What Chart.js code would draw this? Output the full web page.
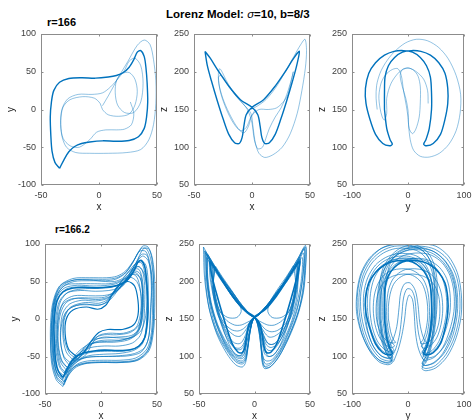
<!DOCTYPE html>
<html>
<head>
<meta charset="utf-8">
<script src="https://cdn.jsdelivr.net/npm/chart.js@4"></script>
<style>
  html, body { margin: 0; padding: 0; background: #fff; }
  body { width: 472px; height: 420px; position: relative; overflow: hidden;
         font-family: "Liberation Sans", Arial, Helvetica, sans-serif; }
  canvas { position: absolute; }
  .ttl { position: absolute; font-weight: bold; color: #000; white-space: nowrap; line-height: 1; }
  .ttl i { font-weight: normal; }
</style>
</head>
<body>
<div class="ttl" id="mainTitle" style="left:166px; top:9px; font-size:11.5px;"></div>
<div class="ttl" id="title0" style="left:47px; top:17px; font-size:11px;"></div>
<div class="ttl" id="title1" style="left:55px; top:225px; font-size:10px;"></div>
<script>
// ---- text ----
const mainTitleParts = ['Lorenz Model: ', '\u03C3', '=10, b=8/3'];
const panelTitles = ['r=166', 'r=166.2'];
const axisNames = ['x', 'y', 'z'];

// ---- tick labels ----
const xTicks = [-50, 0, 50];
const yTicksXY = [-100, -50, 0, 50, 100];
const yTicksYZ = [-100, 0, 100];
const zTicks = [50, 100, 150, 200, 250];

// ---- r = 166 : settled periodic orbit (x-y, x-z, y-z) ----
const orbitXY = [[-34,-78],[-38,-70],[-40.5,-55],[-41.5,-35],[-42,-10],[-41,10],[-39,25],[-34,36],[-26,41],[-15,42],[-3,41.5],[8,43],[15,45],[21,49],[26,56],[30,66],[33,76],[36,78],[39,70],[40.5,55],[41.5,35],[42,10],[41,-10],[39,-25],[34,-36],[26,-41],[15,-42],[3,-41.5],[-8,-43],[-15,-45],[-21,-49],[-26,-56],[-30,-66],[-34,-78]];
const orbitXZ = [[-40.5,227],[-36,218],[-29,201],[-20,181],[-10,163],[0,153],[5,143],[7,128],[8.5,113],[11,105],[15,106],[20,117],[25,138],[30,162],[35,188],[38.5,208],[40.8,227],[36,218],[29,201],[20,181],[10,163],[0,153],[-5,143],[-7,128],[-8.5,113],[-11,105],[-15,106],[-20,117],[-25,138],[-30,162],[-35,188],[-38.5,208],[-40.5,227]];
const orbitYZ = [[-42,150],[-38,125],[-32,110],[-28,104],[-33,102],[-45,105],[-58,117],[-68,137],[-75,158],[-76,178],[-70,198],[-58,212],[-42,222],[-25,227],[-8,228],[8,226],[22,219],[33,208],[40,193],[42,172],[42,150],[38,125],[32,110],[28,104],[33,102],[45,105],[58,117],[66,137],[71,158],[71,178],[66,198],[55,212],[40,222],[23,227],[6,228],[-10,226],[-24,219],[-35,208],[-41,193],[-42,172],[-42,150]];

// ---- r = 166 : transient before the orbit settles ----
const transientXY = [[3,5],[8,18],[13,32],[18,46],[25,64],[33,85],[39,92],[44,86],[47,66],[49,38],[49,8],[47,-20],[43,-40],[36,-53],[24,-57],[8,-58],[-8,-58],[-20,-57],[-28,-50],[-32,-35],[-33,-15],[-31,3],[-25,13],[-14,17],[-4,15],[1,8],[3,0],[8,-7],[17,-9],[26,-6],[31,6],[33,24],[31,40],[26,49],[19,47],[15,38],[14,22],[16,6],[22,-4],[30,-4],[36,10],[38,35],[36,58],[31,68],[26,64],[22,52],[17,42],[10,30],[3,22],[-6,20],[-18,20],[-27,14],[-32,0],[-33,-20],[-31,-38],[-25,-48],[-17,-50],[-8,-40],[-2,-30],[6,-27],[15,-27],[22,-26],[28,-20],[30,-5],[27,10]];
const transientXZ = [[-1,150],[5,155],[12,163],[20,178],[28,198],[36,220],[42,236],[45.7,243],[47,228],[46,205],[43,175],[39,145],[33,118],[26,100],[18,90],[11,86.5],[6,92],[3,105],[1,125],[-1,145],[-8,158],[-15,170],[-22,188],[-27.6,204],[-29,198],[-28,180],[-24,160],[-18,140],[-12,125],[-7,119],[-3,128],[0,142],[6,150],[14,150],[21,152],[27,160],[31,170],[33,182],[35.6,200],[34,190],[30,170],[25,152],[20,140],[15,125],[12,112],[9,100],[5,98],[2,110],[0,132],[-4,150],[-12,165],[-20,180],[-26,195],[-29,193],[-27,172],[-22,150],[-16,132],[-10,122],[-5,126],[-1,140],[3,150]];
const transientYZ = [[-55,150],[-57,165],[-56,182],[-50,198],[-40,212],[-25,226],[-5,238],[15,243],[35,241],[55,232],[72,217],[86,195],[94,170],[93,145],[86,122],[73,104],[56,92],[38,87],[22,88],[10,96],[4,110],[1,130],[0,149],[-4,165],[-10,180],[-14,195],[-10,203],[0,205],[10,202],[18,194],[22,180],[22,160],[20,140],[14,124],[8,118],[2,125],[0,140],[-3,155],[-8,175],[-12,195],[-18,204],[-28,203],[-40,196],[-48,185],[-52,168],[-50,152],[-46,140],[-42,136],[-38,145],[-38,165],[-30,185],[-15,200],[0,205],[15,200],[28,190],[35,175],[36,158]];

// ---- r = 166.2 : intermittent bursts, x-y ----
const xyLoop1 = [[-33,-88],[-39,-80],[-43,-62],[-45,-35],[-45,-5],[-43,22],[-37,44],[-25,54],[-10,55],[5,55],[14,57],[22,64],[30,80],[37,97],[42,96],[46,80],[48,50],[48,15],[47,-15],[43,-42],[33,-55],[18,-58],[2,-58],[-12,-59],[-22,-64],[-29,-75],[-33,-88]];
const xyLoop2 = [[-33,-86],[-39,-78],[-43,-58],[-44,-32],[-44,-2],[-42,23],[-36,43],[-24,52],[-10,53],[5,53],[14,55],[22,62],[29,77],[36,94],[41,93],[45,76],[47,48],[47,14],[46,-16],[42,-41],[32,-54],[17,-57],[2,-57],[-12,-58],[-22,-62],[-28,-72],[-33,-86]];
const xyLoop3 = [[-32,-83],[-38,-76],[-42,-55],[-43,-30],[-43,0],[-41,24],[-35,42],[-24,50],[-10,51],[4,51],[13,53],[21,60],[28,74],[34,90],[40,90],[44,72],[46,45],[46,12],[45,-18],[41,-40],[31,-52],[17,-55],[2,-55],[-12,-56],[-21,-60],[-28,-70],[-32,-83]];
const xyLoop4 = [[-34,-80],[-40,-70],[-43,-48],[-44,-20],[-43,8],[-40,30],[-32,45],[-20,47],[-6,47],[7,47],[16,50],[24,58],[31,74],[37,84],[42,78],[45,58],[45,28],[44,-2],[42,-28],[36,-44],[25,-49],[10,-50],[-4,-50],[-15,-52],[-24,-60],[-30,-70],[-34,-80]];
const xyLoop5 = [[-33,-76],[-39,-67],[-42,-46],[-43,-20],[-42,7],[-39,27],[-31,40],[-19,43],[-5,42],[7,42],[15,45],[23,53],[30,68],[35,78],[40,72],[42,52],[42,24],[41,-3],[39,-25],[32,-38],[20,-43],[6,-43],[-7,-44],[-17,-48],[-25,-58],[-33,-76]];
const xyLoop6 = [[-33,-72],[-37,-64],[-40,-45],[-41,-20],[-40,5],[-37,24],[-30,35],[-18,38],[-5,37],[7,38],[15,41],[22,48],[28,62],[33,70],[37,64],[39,45],[39,20],[38,-5],[35,-22],[28,-32],[16,-36],[3,-36],[-9,-38],[-18,-44],[-26,-55],[-33,-72]];
const xyLoop7 = [[-31,-68],[-36,-58],[-39,-38],[-39,-14],[-37,8],[-33,24],[-24,31],[-11,31],[1,31],[10,34],[18,42],[24,54],[30,64],[35,60],[37,42],[37,18],[36,-6],[32,-20],[24,-28],[11,-31],[-1,-31],[-11,-34],[-19,-42],[-26,-54],[-31,-68]];
const xyLoop8 = [[-30,-65],[-35,-55],[-38,-35],[-38,-12],[-36,8],[-31,22],[-21,28],[-8,28],[3,29],[11,35],[19,45],[25,57],[31,62],[36,50],[37,30],[36,5],[33,-14],[27,-24],[15,-29],[3,-30],[-7,-32],[-15,-40],[-23,-53],[-30,-65]];
const xyLoop9 = [[-28,-62],[-33,-52],[-36,-32],[-36,-10],[-34,8],[-28,20],[-17,25],[-5,24],[5,27],[13,36],[20,48],[27,60],[32,56],[35,40],[36,15],[35,-8],[30,-22],[19,-28],[6,-28],[-4,-30],[-12,-38],[-20,-52],[-28,-62]];
const xyLoop10 = [[-24,-56],[-31,-44],[-34,-22],[-33,2],[-27,16],[-14,22],[-2,21],[6,26],[12,38],[19,52],[27,66],[34,70],[39,58],[41,30],[40,5],[36,-15],[27,-25],[14,-25],[3,-24],[-5,-28],[-12,-40],[-18,-50],[-24,-56]];
const xyLoop11 = [[-20,-54],[-28,-46],[-33,-25],[-33,-2],[-28,14],[-15,20],[-3,18],[5,23],[11,36],[17,48],[25,56],[32,50],[36,30],[35,5],[31,-12],[20,-19],[7,-19],[-2,-22],[-8,-33],[-13,-47],[-20,-54]];
const xyLoop12 = [[-34,-90],[-40,-81],[-44,-60],[-45,-32],[-44,-2],[-42,24],[-36,45],[-24,52],[-9,52],[4,50],[12,50],[19,54],[25,64],[31,74],[36,75],[39,62],[41,38],[41,10],[40,-15],[37,-33],[29,-42],[16,-46],[2,-47],[-11,-49],[-20,-55],[-28,-68],[-34,-90]];
const xyLoop13 = [[-31,-72],[-36,-64],[-39,-45],[-40,-20],[-39,5],[-36,24],[-29,36],[-17,40],[-4,41],[8,42],[16,46],[24,56],[31,74],[38,94],[43,93],[46,75],[47,45],[47,12],[46,-18],[42,-42],[32,-55],[17,-58],[1,-58],[-13,-59],[-23,-63],[-29,-70],[-31,-72]];
const xyLoop14 = [[-33,-84],[-39,-74],[-42,-52],[-43,-25],[-42,4],[-40,27],[-33,41],[-21,45],[-7,44],[6,45],[15,48],[23,56],[30,71],[36,86],[41,85],[44,66],[45,38],[44,8],[43,-21],[39,-38],[30,-46],[16,-49],[2,-50],[-12,-51],[-22,-56],[-29,-67],[-33,-84]];
const xyLoop15 = [[-29,-66],[-35,-57],[-38,-40],[-39,-16],[-38,6],[-34,20],[-26,27],[-14,27],[-2,26],[8,30],[16,40],[23,54],[29,66],[34,66],[37,52],[38,28],[37,2],[34,-14],[27,-22],[16,-24],[5,-25],[-5,-27],[-13,-35],[-21,-50],[-29,-66]];
const xyLoop16 = [[-26,-60],[-33,-50],[-36,-30],[-35,-6],[-31,10],[-22,18],[-10,19],[0,19],[7,24],[14,36],[21,50],[29,60],[35,55],[37,35],[37,10],[34,-8],[26,-18],[14,-21],[3,-21],[-5,-25],[-12,-37],[-19,-51],[-26,-60]];
const xyInner = [[-22,-50],[-29,-40],[-32,-20],[-31,0],[-25,12],[-13,16],[-3,13],[4,18],[10,32],[16,44],[24,50],[30,44],[33,25],[33,5],[29,-8],[19,-14],[6,-14],[-2,-18],[-9,-30],[-15,-44],[-22,-50]];

// ---- r = 166.2 : x-z ----
const xzLoop1 = [[-45,241],[-40,228],[-30,203],[-18,176],[-7,158],[1,150],[5,135],[6,112],[7,92],[9,84],[14,86],[22,100],[31,125],[39,155],[44,185],[46,215],[46,248],[40,233],[29,205],[17,177],[6,158],[-1,150],[-4,133],[-6,112],[-8,95],[-11,90],[-17,93],[-25,108],[-34,132],[-41,165],[-44,200],[-45,241]];
const xzLoop2 = [[-44,238],[-39,225],[-29,201],[-17,175],[-6,158],[1,150],[5,134],[6,112],[7,94],[9,87],[14,89],[22,103],[31,128],[39,158],[44,188],[45,217],[45,245],[39,230],[28,203],[16,176],[5,158],[-1,150],[-4,134],[-6,113],[-8,97],[-11,92],[-17,95],[-25,110],[-34,135],[-40,167],[-43,202],[-44,238]];
const xzLoop3 = [[-43,232],[-37,217],[-27,195],[-16,172],[-6,157],[1,150],[4,136],[6,115],[8,97],[10,90],[15,92],[23,107],[31,132],[38,160],[42,190],[44,215],[44,238],[38,222],[27,198],[16,174],[5,157],[-1,150],[-4,135],[-6,115],[-8,100],[-11,94],[-17,97],[-25,112],[-33,137],[-39,167],[-42,198],[-43,232]];
const xzLoop4 = [[-42,236],[-36,221],[-26,198],[-15,174],[-5,157],[1,150],[4,133],[6,112],[8,98],[11,94],[16,96],[24,112],[32,138],[39,168],[43,200],[45,243],[38,225],[27,200],[15,174],[5,157],[-1,150],[-4,133],[-6,114],[-9,100],[-12,97],[-18,100],[-26,116],[-34,142],[-40,172],[-43,205],[-42,236]];
const xzLoop5 = [[-40,228],[-34,214],[-25,193],[-14,171],[-5,157],[1,150],[5,139],[8,124],[10,112],[13,108],[18,110],[24,124],[31,148],[36,176],[39,202],[41,230],[35,215],[25,193],[13,171],[4,157],[-1,150],[-5,139],[-8,124],[-10,113],[-13,109],[-18,111],[-24,126],[-31,150],[-36,177],[-39,203],[-40,228]];
const xzLoop6 = [[-38,222],[-33,210],[-24,190],[-14,170],[-5,157],[1,150],[5,138],[8,120],[10,106],[13,100],[18,103],[24,118],[30,142],[35,170],[38,196],[40,224],[34,210],[24,190],[13,170],[4,157],[-1,150],[-5,138],[-8,120],[-10,108],[-13,101],[-18,104],[-24,120],[-30,145],[-35,172],[-37,198],[-38,222]];
const xzLoop7 = [[-44,240],[-38,226],[-28,200],[-16,175],[-5,157],[1,150],[5,140],[8,125],[11,115],[15,112],[21,117],[28,135],[34,160],[38,188],[40,212],[41,232],[35,216],[25,193],[13,171],[4,157],[-1,150],[-4,136],[-7,118],[-9,104],[-12,99],[-18,102],[-26,118],[-34,144],[-40,176],[-43,208],[-44,240]];
const xzLoop8 = [[-37,222],[-31,208],[-22,190],[-12,170],[-4,156],[1,150],[5,142],[9,132],[13,126],[18,127],[25,135],[32,150],[37,170],[39,195],[38,223],[32,209],[22,190],[12,170],[4,156],[-1,150],[-5,142],[-9,133],[-13,127],[-18,128],[-25,137],[-32,152],[-36,172],[-38,196],[-37,222]];
const xzLoop9 = [[-36,220],[-30,206],[-22,189],[-12,169],[-4,156],[1,150],[5,144],[10,136],[15,133],[21,135],[28,144],[33,160],[36,182],[38,204],[38,221],[31,207],[22,189],[12,169],[4,156],[-1,150],[-5,144],[-10,137],[-15,134],[-21,136],[-28,146],[-33,162],[-36,183],[-37,203],[-36,220]];
const xzLoop10 = [[-36,218],[-30,205],[-21,188],[-11,168],[-3,155],[1,150],[6,146],[12,142],[18,142],[25,148],[31,160],[35,178],[37,200],[37,219],[31,206],[21,188],[11,168],[3,155],[-1,150],[-6,146],[-12,142],[-18,142],[-25,148],[-31,160],[-35,178],[-37,198],[-36,218]];
const xzLoop11 = [[-46,246],[-40,230],[-30,204],[-18,177],[-6,158],[1,150],[5,140],[9,126],[12,118],[16,116],[21,121],[27,137],[32,160],[36,186],[38,210],[39,226],[33,211],[23,190],[12,170],[4,156],[-1,150],[-4,132],[-6,110],[-8,92],[-11,86],[-17,89],[-25,104],[-34,130],[-41,165],[-45,205],[-46,246]];
const xzLoop12 = [[-41,232],[-35,217],[-26,195],[-15,172],[-5,157],[1,150],[4,134],[6,110],[8,91],[10,85],[15,87],[23,102],[32,130],[40,162],[44,195],[46,222],[46,246],[39,228],[28,201],[16,175],[5,157],[-1,150],[-5,138],[-8,124],[-11,114],[-14,111],[-19,113],[-26,128],[-32,152],[-37,180],[-40,205],[-41,232]];
const xzLoop13 = [[-39,226],[-33,212],[-24,191],[-13,170],[-4,156],[1,150],[5,141],[8,128],[11,119],[14,116],[19,118],[25,131],[31,153],[36,180],[39,206],[40,228],[34,213],[24,192],[13,171],[4,157],[-1,150],[-5,141],[-8,129],[-11,120],[-14,117],[-19,119],[-25,132],[-31,154],[-35,180],[-38,204],[-39,226]];
const xzLoop14 = [[-43,236],[-37,220],[-27,197],[-16,173],[-5,157],[1,150],[4,137],[7,118],[9,104],[12,100],[17,102],[24,116],[32,141],[38,170],[42,200],[43,232],[37,218],[26,196],[15,173],[5,157],[-1,150],[-4,137],[-7,119],[-9,105],[-12,101],[-17,103],[-25,118],[-33,142],[-39,172],[-42,204],[-43,236]];
const xzHoleL = [[-35,220],[-29,206],[-21,189],[-14,172],[-12,160],[-16,152],[-24,152],[-31,160],[-36,178],[-37,200],[-35,220]];
const xzHoleR = [[35,221],[29,207],[21,190],[14,173],[12,160],[16,152],[24,152],[31,160],[36,178],[37,200],[35,221]];

// ---- r = 166.2 : y-z ----
const yzLoop1 = [[-52,150],[-46,122],[-36,100],[-28,92],[-36,89],[-52,93],[-68,107],[-82,130],[-90,158],[-90,185],[-83,210],[-68,230],[-48,244],[-25,250],[0,250],[20,247],[36,238],[47,222],[52,200],[52,175],[50,150],[44,120],[34,95],[25,84],[32,81],[50,85],[70,100],[86,125],[95,155],[95,185],[88,212],[72,234],[50,247],[25,250],[5,249],[-15,244],[-32,233],[-45,217],[-51,195],[-52,172],[-52,150]];
const yzLoop2 = [[-50,150],[-45,123],[-35,102],[-28,94],[-36,91],[-51,95],[-67,109],[-80,132],[-87,159],[-87,185],[-80,209],[-66,228],[-46,241],[-24,247],[0,247],[20,244],[35,234],[45,218],[50,197],[50,172],[49,150],[43,122],[34,98],[25,87],[32,84],[49,88],[68,103],[83,126],[92,156],[92,185],[85,210],[69,231],[48,243],[25,247],[5,246],[-15,241],[-31,231],[-43,214],[-49,193],[-50,171],[-50,150]];
const yzLoop3 = [[-48,150],[-43,124],[-34,104],[-27,96],[-35,94],[-50,98],[-65,112],[-77,134],[-84,160],[-84,186],[-77,208],[-63,226],[-44,238],[-22,244],[0,244],[19,240],[33,230],[43,213],[47,193],[48,170],[47,150],[42,124],[33,102],[26,90],[32,88],[48,92],[66,106],[80,128],[88,157],[88,185],[81,209],[66,228],[46,240],[24,244],[4,243],[-14,238],[-30,228],[-41,212],[-47,192],[-48,170],[-48,150]];
const yzLoop4 = [[-45,150],[-40,124],[-32,106],[-27,99],[-34,97],[-48,101],[-62,114],[-73,135],[-79,160],[-79,184],[-72,205],[-58,222],[-40,232],[-20,237],[0,237],[18,233],[31,223],[40,208],[44,190],[45,170],[44,150],[39,124],[31,106],[26,97],[32,95],[47,99],[62,112],[74,134],[82,160],[82,186],[75,208],[61,225],[42,235],[22,238],[3,237],[-15,232],[-29,222],[-39,207],[-44,190],[-45,170],[-45,150]];
const yzLoop5 = [[-42,150],[-37,126],[-30,110],[-26,105],[-32,103],[-45,107],[-57,119],[-67,138],[-72,160],[-72,182],[-66,202],[-53,217],[-36,226],[-17,230],[0,230],[16,226],[28,217],[37,203],[41,187],[42,168],[41,150],[36,126],[29,110],[25,104],[31,102],[44,106],[57,118],[68,137],[75,160],[75,184],[69,204],[56,219],[38,228],[19,231],[2,230],[-14,226],[-27,217],[-36,203],[-41,187],[-42,168],[-42,150]];
const yzLoop6 = [[-38,150],[-34,130],[-28,118],[-24,114],[-30,112],[-41,116],[-52,127],[-59,143],[-62,162],[-60,182],[-53,198],[-42,209],[-28,215],[-12,217],[4,216],[17,211],[28,202],[35,188],[38,170],[38,150],[34,130],[28,118],[24,113],[30,111],[41,115],[52,126],[59,143],[62,162],[60,182],[53,198],[42,209],[28,215],[12,217],[-4,216],[-17,211],[-28,202],[-35,188],[-38,170],[-38,150]];
const yzLoop7 = [[-35,150],[-31,133],[-26,122],[-22,119],[-28,118],[-38,121],[-48,130],[-55,145],[-57,162],[-55,180],[-48,194],[-37,203],[-24,208],[-9,210],[5,209],[17,204],[26,196],[32,183],[35,167],[35,150],[31,132],[26,121],[22,118],[28,117],[38,120],[48,129],[55,145],[57,162],[55,180],[48,194],[37,203],[24,208],[9,210],[-5,209],[-17,204],[-26,196],[-32,183],[-35,167],[-35,150]];
const yzLoop8 = [[-55,150],[-49,125],[-38,103],[-29,95],[-37,92],[-53,96],[-70,110],[-84,133],[-92,160],[-91,187],[-84,211],[-69,231],[-48,244],[-25,249],[-2,249],[18,245],[33,236],[43,221],[47,203],[48,182],[47,162],[43,140],[36,118],[27,102],[33,98],[49,101],[65,114],[78,134],[85,158],[85,184],[78,207],[64,225],[45,237],[23,242],[3,242],[-16,237],[-33,227],[-46,211],[-53,191],[-55,170],[-55,150]];
const yzLoop9 = [[-40,150],[-36,128],[-29,113],[-25,108],[-31,106],[-43,110],[-55,121],[-64,140],[-68,162],[-67,184],[-61,203],[-49,218],[-33,227],[-15,231],[3,231],[19,227],[32,217],[41,203],[46,186],[48,166],[47,148],[42,122],[34,102],[25,91],[31,88],[46,92],[62,104],[76,126],[85,154],[86,183],[80,207],[67,226],[48,239],[26,245],[5,245],[-14,240],[-28,230],[-36,214],[-40,194],[-41,172],[-40,150]];
const yzLoop10 = [[-50,150],[-45,126],[-36,108],[-29,100],[-36,98],[-50,102],[-63,115],[-72,135],[-76,158],[-75,182],[-69,202],[-57,218],[-41,228],[-22,233],[-3,234],[15,230],[29,221],[39,207],[44,189],[45,168],[43,150],[38,128],[31,112],[25,106],[31,104],[43,108],[55,120],[64,140],[69,162],[68,184],[62,203],[51,217],[36,226],[19,230],[2,230],[-16,226],[-31,217],[-42,203],[-48,185],[-50,168],[-50,150]];
const yzArch1 = [[-30,98],[-22,110],[-15,130],[-11,155],[-8,178],[-2,190],[6,189],[12,178],[15,155],[19,130],[26,112],[34,102]];
const yzArch2 = [[-36,110],[-27,122],[-20,140],[-16,165],[-13,185],[-6,197],[4,198],[13,188],[18,168],[21,145],[27,126],[37,114]];
const yzArch3 = [[-26,93],[-18,108],[-11,128],[-6,150],[-3,170],[2,182],[8,176],[11,158],[13,135],[17,115],[24,100],[32,92]];

// ---- drawing ----
const BLUE = '#0072BD';
const LIGHT = 'rgba(0,114,189,0.72)';
const YW = 40, XH = 28, PT = 12, PR = 14;

Chart.defaults.font.family = '"Liberation Sans", Arial, Helvetica, sans-serif';
Chart.defaults.animation = false;

function toPts(a) { return a.map(p => ({ x: p[0], y: p[1] })); }
function path(a, color, w) {
  return { data: toPts(a), showLine: true, pointRadius: 0, pointHoverRadius: 0,
           borderColor: color, borderWidth: w, tension: 0.3, fill: false };
}

// full box with short inward tick marks on all four sides
const boxPlugin = {
  id: 'box',
  afterDraw(chart) {
    const { ctx, chartArea: a, scales } = chart;
    const L = Math.round(a.left) + 0.5, R = Math.round(a.right) - 0.5;
    const T = Math.round(a.top) + 0.5, B = Math.round(a.bottom) - 0.5;
    ctx.save();
    ctx.strokeStyle = '#8c8c8c';
    ctx.lineWidth = 1;
    ctx.strokeRect(L, T, R - L, B - T);
    ctx.beginPath();
    const tl = 2;
    scales.x.ticks.forEach(t => {
      const px = Math.round(scales.x.getPixelForValue(t.value)) + 0.5;
      ctx.moveTo(px, B); ctx.lineTo(px, B - tl);
      ctx.moveTo(px, T); ctx.lineTo(px, T + tl);
    });
    scales.y.ticks.forEach(t => {
      const py = Math.round(scales.y.getPixelForValue(t.value)) + 0.5;
      ctx.moveTo(L, py); ctx.lineTo(L + tl, py);
      ctx.moveTo(R, py); ctx.lineTo(R - tl, py);
    });
    ctx.stroke();
    ctx.restore();
  }
};

const thin = l => [l, BLUE, 0.65];
const panels = [
  { box: [41, 34, 116, 151], xr: [-50, 50], yr: [-100, 100], xt: xTicks, yt: yTicksXY, xl: axisNames[0], yl: axisNames[1],
    light: [[transientXY, LIGHT, 0.6]], dark: [[orbitXY, BLUE, 1.4]] },
  { box: [194, 34, 116, 151], xr: [-50, 50], yr: [50, 250], xt: xTicks, yt: zTicks, xl: axisNames[0], yl: axisNames[2],
    light: [[transientXZ, LIGHT, 0.6]], dark: [[orbitXZ, BLUE, 1.4]] },
  { box: [352, 34, 112, 151], xr: [-100, 100], yr: [50, 250], xt: yTicksYZ, yt: zTicks, xl: axisNames[1], yl: axisNames[2],
    light: [[transientYZ, LIGHT, 0.6]], dark: [[orbitYZ, BLUE, 1.4]] },
  { box: [45, 244, 112, 150], xr: [-50, 50], yr: [-100, 100], xt: xTicks, yt: yTicksXY, xl: axisNames[0], yl: axisNames[1],
    light: [xyLoop1, xyLoop2, xyLoop3, xyLoop4, xyLoop5, xyLoop6, xyLoop7, xyLoop8, xyLoop9, xyLoop10, xyLoop11,
            xyLoop12, xyLoop13, xyLoop14, xyLoop15, xyLoop16].map(thin),
    dark: [[xyInner, BLUE, 1.2], [orbitXY, BLUE, 1.6]] },
  { box: [199, 244, 111, 150], xr: [-50, 50], yr: [50, 250], xt: xTicks, yt: zTicks, xl: axisNames[0], yl: axisNames[2],
    light: [xzLoop1, xzLoop2, xzLoop3, xzLoop4, xzLoop5, xzLoop6, xzLoop7, xzLoop8, xzLoop9, xzLoop10,
            xzLoop11, xzLoop12, xzLoop13, xzLoop14, xzHoleL, xzHoleR].map(thin),
    dark: [[orbitXZ, BLUE, 1.6]] },
  { box: [352, 244, 112, 150], xr: [-100, 100], yr: [50, 250], xt: yTicksYZ, yt: zTicks, xl: axisNames[1], yl: axisNames[2],
    light: [yzLoop1, yzLoop2, yzLoop3, yzLoop4, yzLoop5, yzLoop6, yzLoop7, yzLoop8, yzLoop9, yzLoop10,
            yzArch1, yzArch2, yzArch3].map(thin),
    dark: [[orbitYZ, BLUE, 1.6]] }
];

const tickFont = { size: 9 };
const tickColor = '#404040';

panels.forEach(p => {
  const [L, T, W, H] = p.box;
  const c = document.createElement('canvas');
  c.width = YW + W + PR;
  c.height = PT + H + XH;
  c.style.left = (L - YW) + 'px';
  c.style.top = (T - PT) + 'px';
  document.body.appendChild(c);
  const datasets = p.light.concat(p.dark).map(d => path(d[0], d[1], d[2]));
  new Chart(c, {
    type: 'scatter',
    data: { datasets },
    options: {
      responsive: false, devicePixelRatio: 1, events: [],
      layout: { padding: { top: PT, right: PR, left: 0, bottom: 0 } },
      plugins: { legend: { display: false }, tooltip: { enabled: false } },
      scales: {
        x: {
          type: 'linear', min: p.xr[0], max: p.xr[1],
          afterBuildTicks: s => { s.ticks = p.xt.map(v => ({ value: v })); },
          afterFit: s => { s.height = XH; },
          grid: { display: false, drawTicks: false }, border: { display: false },
          ticks: { font: tickFont, color: tickColor, padding: 5, maxRotation: 0, autoSkip: false },
          title: { display: true, text: p.xl, font: { size: 10 }, color: '#262626', padding: { top: 0, bottom: 0 } }
        },
        y: {
          type: 'linear', min: p.yr[0], max: p.yr[1],
          afterBuildTicks: s => { s.ticks = p.yt.map(v => ({ value: v })); },
          afterFit: s => { s.width = YW; },
          grid: { display: false, drawTicks: false }, border: { display: false },
          ticks: { font: tickFont, color: tickColor, padding: 5, autoSkip: false },
          title: { display: true, text: p.yl, font: { size: 10 }, color: '#262626', padding: { top: 4, bottom: 0 } }
        }
      }
    },
    plugins: [boxPlugin]
  });
});

// titles
const mt = document.getElementById('mainTitle');
mt.appendChild(document.createTextNode(mainTitleParts[0]));
const sg = document.createElement('i'); sg.textContent = mainTitleParts[1]; mt.appendChild(sg);
mt.appendChild(document.createTextNode(mainTitleParts[2]));
document.getElementById('title0').textContent = panelTitles[0];
document.getElementById('title1').textContent = panelTitles[1];
</script>
</body>
</html>
